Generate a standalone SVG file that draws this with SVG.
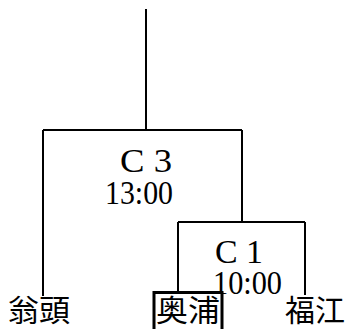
<svg xmlns="http://www.w3.org/2000/svg" width="348" height="329" viewBox="0 0 348 329">
<style>
.ln{stroke:#000;stroke-width:2;fill:none}
.num{font-family:"Liberation Serif","Times New Roman",serif;font-size:33px;fill:#000}
.jp{font-family:"Noto Sans CJK JP","Noto Sans CJK SC",sans-serif;font-size:30px;fill:#000}
</style>
<rect width="348" height="329" fill="#fff"/>
<g id="connectors">
<path class="ln" d="M146 9V130M43 130H242M43 130V296M242 130V222M178 222H305M178 222V292M305 222V295"/>
</g>
<g id="C3">
<text class="num" x="120" y="172" textLength="52" lengthAdjust="spacingAndGlyphs">C 3</text>
<text class="num" x="105" y="204" textLength="68" lengthAdjust="spacingAndGlyphs">13:00</text>
</g>
<g id="C1">
<text class="num" x="215" y="263" textLength="48" lengthAdjust="spacingAndGlyphs">C 1</text>
<text class="num" x="213" y="294" textLength="69" lengthAdjust="spacingAndGlyphs">10:00</text>
</g>
<g id="okashira">
<text class="jp" x="8" y="321" textLength="62" lengthAdjust="spacingAndGlyphs">翁頭</text>
</g>
<g id="okuura">
<rect x="154" y="292.5" width="68" height="40" fill="none" stroke="#000" stroke-width="3"/>
<text class="jp" x="156" y="321" textLength="64" lengthAdjust="spacingAndGlyphs">奥浦</text>
</g>
<g id="fukue">
<text class="jp" x="285" y="321" textLength="60" lengthAdjust="spacingAndGlyphs">福江</text>
</g>
</svg>
